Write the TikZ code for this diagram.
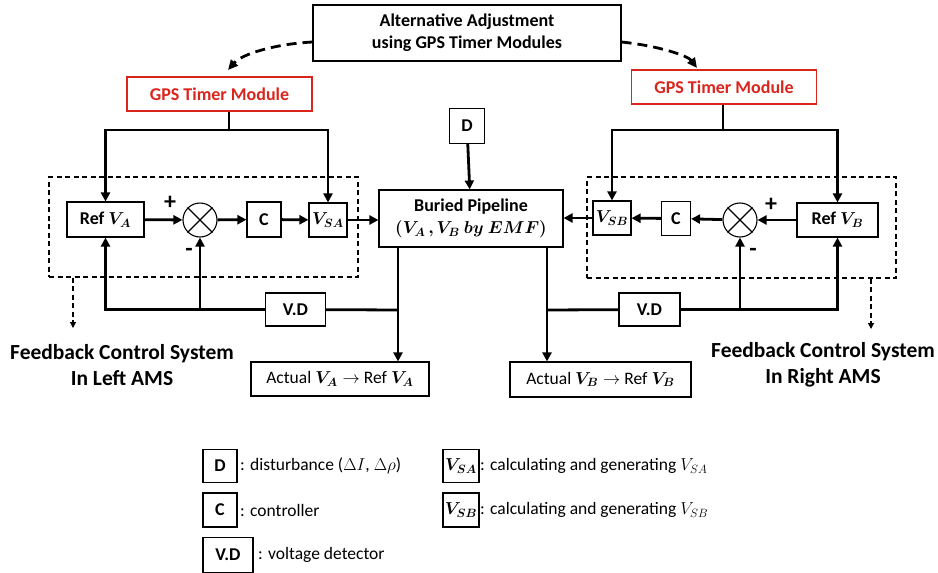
\documentclass[tikz,border=0pt]{standalone}
\usepackage{fontspec}
\setmainfont{Carlito}
\usepackage{amsmath}
\usepackage{bm}
\usetikzlibrary{arrows.meta}

\definecolor{gpsred}{RGB}{218,37,29}

\tikzset{
blk/.style={draw, line width=1.1pt, fill=white, inner sep=0pt, font=\bfseries\fontsize{18}{22}\selectfont},
gps/.style={draw=gpsred, line width=1.1pt, text=gpsred, inner sep=0pt, font=\bfseries\fontsize{18}{22}\selectfont},
grp/.style={draw, line width=1.1pt, dash pattern=on 5pt off 3.5pt, inner sep=0pt},
sumnode/.style={draw, circle, line width=1.1pt, minimum size=34pt, inner sep=0pt},
wire/.style={line width=2.8pt},
sig/.style={line width=2.8pt, -{Triangle[length=9pt,width=9pt]}},
hint/.style={line width=1.1pt, dash pattern=on 5pt off 3.5pt, -{Triangle[length=6pt,width=6pt]}},
alt/.style={line width=2.8pt, dash pattern=on 10pt off 6pt, -{Triangle[length=10pt,width=9pt]}},
note/.style={font=\bfseries\fontsize{21.5}{26}\selectfont, align=center},
sign/.style={font=\bfseries\fontsize{24}{24}\selectfont, inner sep=0pt},
legtxt/.style={anchor=west, inner sep=0pt, font=\fontsize{17.5}{21}\selectfont},
}

\begin{document}
\begin{tikzpicture}[x=1pt,y=1pt,yscale=-1]
\useasboundingbox (0,0) rectangle (938,573);

% dashed loop groups
\node[grp, minimum width=309pt, minimum height=100pt] (loopa) at (203.5,227) {};
\node[grp, minimum width=309pt, minimum height=101pt] (loopb) at (741.5,227.5) {};

% top part
\node[blk, minimum width=308pt, minimum height=56pt, align=center] (alt) at (467,33) {Alternative Adjustment\\using GPS Timer Modules};
\node[gps, minimum width=185pt, minimum height=34pt] (gpsa) at (219.5,94) {GPS Timer Module};
\node[gps, minimum width=185pt, minimum height=34pt] (gpsb) at (724,87) {GPS Timer Module};

% plant
\node[blk, minimum width=35pt, minimum height=35pt] (dist) at (467,126) {D};
\node[blk, minimum width=184pt, minimum height=57pt, align=center] (pipe) at (471,218.5) {Buried Pipeline\\$\bm{(V_A\,,V_B\ by\ EMF)}$};

% left loop
\node[blk, minimum width=77pt, minimum height=35pt] (refa) at (105.5,219.5) {Ref $\bm{V_A}$};
\node[sumnode] (suma) at (200,220) {};
\node[blk, minimum width=34pt, minimum height=35pt] (ca) at (264,219.5) {C};
\node[blk, minimum width=38pt, minimum height=34pt] (vsa) at (328,220) {$\bm{V_{SA}}$};
\node[blk, minimum width=60pt, minimum height=33pt] (vda) at (295.5,309.5) {V.D};
\node[blk, minimum width=178pt, minimum height=34pt, font=\fontsize{17.5}{21}\selectfont] (acta) at (340,379) {Actual $\bm{V_A}\rightarrow$ Ref $\bm{V_A}$};

% right loop
\node[blk, minimum width=81pt, minimum height=34pt] (refb) at (837.5,220) {Ref $\bm{V_B}$};
\node[sumnode] (sumb) at (740,220) {};
\node[blk, minimum width=29pt, minimum height=34pt] (cb) at (676,218.5) {C};
\node[blk, minimum width=38pt, minimum height=34pt] (vsb) at (612,218) {$\bm{V_{SB}}$};
\node[blk, minimum width=61pt, minimum height=33pt] (vdb) at (649.5,309.5) {V.D};
\node[blk, minimum width=181pt, minimum height=35pt, font=\fontsize{17.5}{21}\selectfont] (actb) at (600.5,379.5) {Actual $\bm{V_B}\rightarrow$ Ref $\bm{V_B}$};

\draw[line width=1.1pt] (suma.45) -- (suma.225) (suma.135) -- (suma.315);
\draw[line width=1.1pt] (sumb.45) -- (sumb.225) (sumb.135) -- (sumb.315);

% junctions
\coordinate (ga) at (229,130);
\coordinate (gb) at (723,130);
\coordinate (fa) at (398,310);
\coordinate (fb) at (547,310);

% alternative adjustment
\draw[alt] (alt.west |- 0,42) .. controls (275,44) and (242,54) .. (228,70);
\draw[alt] (alt.east |- 0,42) .. controls (660,46) and (688,56) .. (697,68);

% GPS timers
\draw[wire] (gpsa.south -| ga) -- (ga);
\draw[sig] (ga) -| (refa.north);
\draw[sig] (ga) -| (vsa.north);
\draw[wire] (gpsb.south -| gb) -- (gb);
\draw[sig] (gb) -| (vsb.north);
\draw[sig] (gb) -| (refb.north);

% forward paths
\draw[sig] (dist) -- (pipe);
\draw[sig] (refa) -- (suma);
\draw[sig] (suma) -- (ca);
\draw[sig] (ca) -- (vsa);
\draw[sig] (vsa) -- (pipe.west |- vsa);
\draw[sig] (refb) -- (sumb);
\draw[sig] (sumb) -- (cb);
\draw[sig] (cb) -- (vsb);
\draw[sig] (vsb) -- (pipe.east |- vsb);

% feedback paths
\draw[sig] (pipe.south -| fa) -- (acta.north -| fa);
\draw[wire] (fa) -- (vda);
\draw[sig] (vda.west) -| (refa.south);
\draw[sig] (suma.south |- fa) -- (suma.south);
\draw[sig] (pipe.south -| fb) -- (actb.north -| fb);
\draw[wire] (fb) -- (vdb);
\draw[sig] (vdb.east) -| (refb.south);
\draw[sig] (sumb.south |- fb) -- (sumb.south);

% signs
\node[sign] (pa) at (170,203) {+};
\node[sign] (ma) at (189,252) {-};
\node[sign] (pb) at (771,205) {+};
\node[sign] (mb) at (753,252) {-};

% group notes
\coordinate (dropa) at (73,328);
\coordinate (dropb) at (871,329);
\draw[hint] (loopa.south -| dropa) -- (dropa);
\draw[hint] (loopb.south -| dropb) -- (dropb);
\node[note] (fbla) at (122,365) {Feedback Control System\\In Left AMS};
\node[note] (fblb) at (823,365) {Feedback Control System\\In Right AMS};

% legend
\node[blk, minimum width=34pt, minimum height=33pt] (kd) at (220,466) {D};
\node[legtxt] (td) at (240,466) {: disturbance ($\Delta I$, $\Delta\rho$)};
\node[blk, minimum width=34pt, minimum height=34pt] (kc) at (220,510) {C};
\node[legtxt] (tc) at (240,510) {: controller};
\node[blk, minimum width=50pt, minimum height=35pt] (kv) at (228,555) {V.D};
\node[legtxt] (tv) at (258,555) {: voltage detector};
\node[blk, minimum width=36pt, minimum height=33pt] (ksa) at (461,466) {$\bm{V_{SA}}$};
\node[legtxt] (tsa) at (480,466) {: calculating and generating $V_{SA}$};
\node[blk, minimum width=36pt, minimum height=34pt] (ksb) at (461,510) {$\bm{V_{SB}}$};
\node[legtxt] (tsb) at (480,510) {: calculating and generating $V_{SB}$};

\end{tikzpicture}
\end{document}
